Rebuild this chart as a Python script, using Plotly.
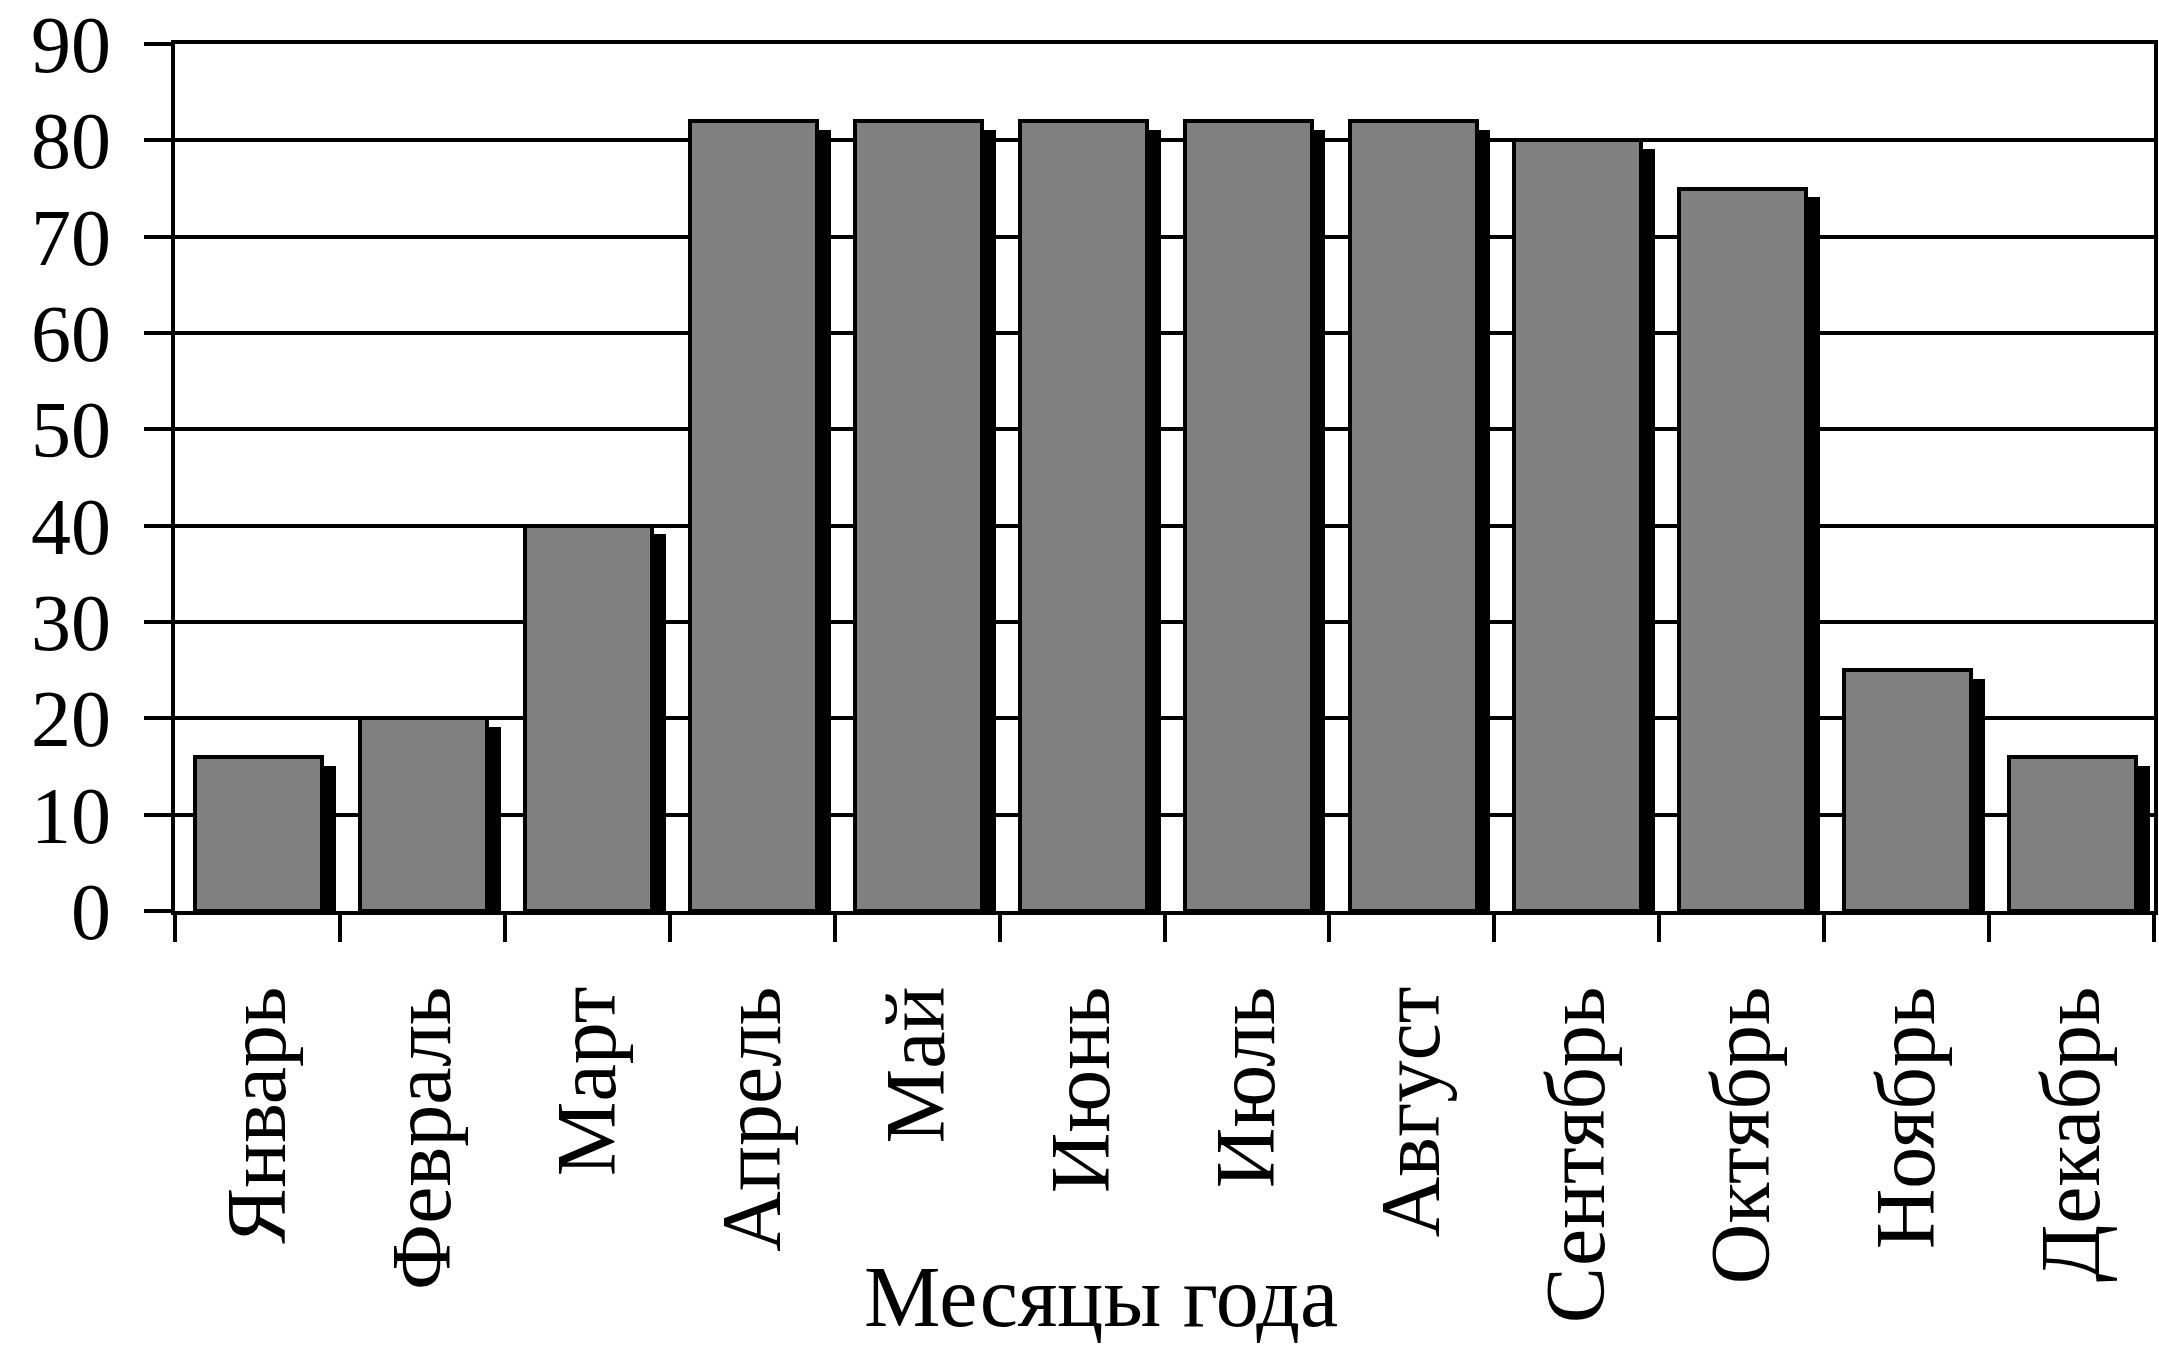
import plotly.graph_objects as go

# Monthly values
months = ["Январь", "Февраль", "Март", "Апрель", "Май", "Июнь",
          "Июль", "Август", "Сентябрь", "Октябрь", "Ноябрь", "Декабрь"]
values = [16, 20, 40, 82, 82, 82, 82, 82, 80, 75, 25, 16]
y_ticks = [0, 10, 20, 30, 40, 50, 60, 70, 80, 90]
x_title = "Месяцы года"

W, H = 2159, 1355
M_L, M_R, M_T, M_B = 175, 1, 42, 444

FONT = "Liberation Serif, Times New Roman, serif"
LINE_W = 4
BAR_W = 0.77
BAR_OFF = -0.378
SHADOW_OFF = -0.294
SHADOW_DROP = 0.9  # shadow top sits slightly below the bar top

fig = go.Figure()

# black drop shadow behind each bar
fig.add_trace(go.Bar(
    x=months,
    y=[v - SHADOW_DROP for v in values],
    width=BAR_W,
    offset=SHADOW_OFF,
    marker=dict(color="#000000", line=dict(width=0)),
    hoverinfo="skip",
    showlegend=False,
))

# grey bars with black outline
fig.add_trace(go.Bar(
    x=months,
    y=values,
    width=BAR_W,
    offset=BAR_OFF,
    marker=dict(color="#808080", line=dict(color="#000000", width=LINE_W)),
    showlegend=False,
))

plot_w = W - M_L - M_R
plot_h = H - M_T - M_B

fig.add_annotation(
    text=x_title,
    xref="paper", yref="paper",
    x=(1103 - M_L) / plot_w,
    y=-(1298 - (H - M_B)) / plot_h,
    xanchor="center", yanchor="middle",
    showarrow=False,
    borderpad=0,
    font=dict(family=FONT, size=86, color="#000000"),
)

fig.update_layout(
    width=W, height=H,
    margin=dict(l=M_L, r=M_R, t=M_T, b=M_B, pad=0),
    paper_bgcolor="#ffffff",
    plot_bgcolor="#ffffff",
    barmode="overlay",
    bargap=0,
    font=dict(family=FONT, color="#000000"),
)

fig.update_xaxes(
    type="category",
    categoryorder="array",
    categoryarray=months,
    range=[-0.5, len(months) - 0.5],
    showline=True, linecolor="#000000", linewidth=LINE_W,
    mirror=True,
    ticks="outside", tickson="boundaries", ticklen=27, tickwidth=LINE_W, tickcolor="#000000",
    tickangle=-90,
    tickfont=dict(family=FONT, size=84, color="#000000"),
    ticklabelstandoff=38,
    showgrid=False,
    zeroline=False,
    fixedrange=True,
)

fig.update_yaxes(
    range=[0, 90],
    tickvals=y_ticks,
    ticktext=[str(t) for t in y_ticks],
    showline=True, linecolor="#000000", linewidth=LINE_W,
    mirror=True,
    ticks="outside", ticklen=27, tickwidth=LINE_W, tickcolor="#000000",
    tickfont=dict(family=FONT, size=80, color="#000000"),
    ticklabelstandoff=17,
    ticklabeloverflow="allow",
    showgrid=True, gridcolor="#000000", gridwidth=LINE_W,
    zeroline=False,
    fixedrange=True,
)

fig.write_html("out.html", config={"displayModeBar": False})
